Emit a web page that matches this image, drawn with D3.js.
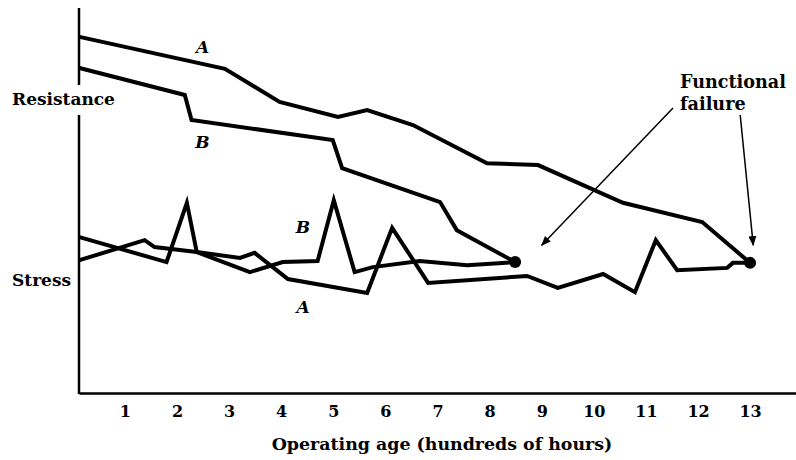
<!DOCTYPE html>
<html lang="en">
<head>
	<title>Resistance and stress vs operating age</title>
	<script src="https://d3js.org/d3.v7.min.js" charset="utf-8"></script>
	<style>
		body { margin: 0; background: #fff; }
		text {
			font-family: "DejaVu Serif", serif;
			font-weight: bold;
			fill: #000;
		}
	</style>
</head>

<body>
<script>
	// Data (x = hundreds of hours, y = arbitrary level)
	var resistA_x = [0.13, 2.92, 3.97, 5.09, 5.65, 6.53, 7.95, 8.93, 10.56, 12.08, 13.0];
	var resistA_y = [92.5, 84.2, 75.6, 71.7, 73.5, 69.6, 59.7, 59.2, 49.4, 44.4, 33.8];

	var resistB_x = [0.13, 2.15, 2.28, 4.99, 5.17, 7.05, 7.37, 8.49];
	var resistB_y = [84.4, 77.4, 70.9, 65.7, 58.4, 49.6, 42.3, 34.0];

	var stressA_x = [0.13, 1.38, 1.57, 2.38, 3.21, 3.49, 4.13, 5.65, 6.13, 6.82, 8.72, 9.31, 10.18, 10.79, 11.19, 11.60, 12.56, 12.67, 13.0];
	var stressA_y = [34.5, 39.7, 37.9, 36.6, 35.1, 36.4, 29.6, 26.0, 42.9, 28.6, 30.4, 27.3, 30.9, 26.2, 39.7, 31.9, 32.5, 33.8, 33.8];

	var stressB_x = [0.13, 1.80, 2.19, 2.38, 3.40, 4.03, 4.70, 5.01, 5.41, 5.76, 6.66, 7.57, 8.49];
	var stressB_y = [40.5, 34.0, 49.4, 36.6, 31.4, 34.0, 34.3, 50.1, 31.4, 32.7, 34.3, 33.2, 34.0];

	// failure points (end of each pair)
	var failX = [8.49, 13.0];
	var failY = [34.0, 33.8];

	var tickLabels = [1, 2, 3, 4, 5, 6, 7, 8, 9, 10, 11, 12, 13];

	var w = 796;
	var h = 460;

	var x = d3.scaleLinear().domain([0.12, 13.9]).range([79, 797]);
	var y = d3.scaleLinear().domain([0, 100]).range([393, 8]);

	var svg = d3.select("body")
		.append("svg")
		.attr("width", w)
		.attr("height", h);

	svg.append("rect")
		.attr("width", w)
		.attr("height", h)
		.attr("fill", "#fff");

	function zip(xs, ys) {
		return xs.map(function(v, i) { return [v, ys[i]]; });
	}

	var line = d3.line()
		.x(function(d) { return x(d[0]); })
		.y(function(d) { return y(d[1]); });

	var series = [
		zip(resistA_x, resistA_y),
		zip(resistB_x, resistB_y),
		zip(stressA_x, stressA_y),
		zip(stressB_x, stressB_y)
	];

	svg.selectAll("path.curve")
		.data(series)
		.enter()
		.append("path")
		.attr("class", "curve")
		.attr("d", line)
		.attr("fill", "none")
		.attr("stroke", "#000")
		.attr("stroke-width", 4);

	svg.selectAll("circle.fail")
		.data(zip(failX, failY))
		.enter()
		.append("circle")
		.attr("class", "fail")
		.attr("cx", function(d) { return x(d[0]); })
		.attr("cy", function(d) { return y(d[1]); })
		.attr("r", 6)
		.attr("fill", "#000");

	// x-axis
	var xAxis = d3.axisBottom(x)
		.tickValues(tickLabels)
		.tickFormat(d3.format("d"))
		.tickSize(0)
		.tickSizeOuter(0)
		.tickPadding(13);

	var gx = svg.append("g")
		.attr("transform", "translate(0," + y(0) + ")")
		.call(xAxis);
	gx.select(".domain").attr("stroke-width", 2.5);
	gx.selectAll("text")
		.attr("font-family", "'DejaVu Serif', serif")
		.attr("font-weight", "bold")
		.attr("font-size", 16);

	// y-axis, broken where the Resistance label sits
	svg.append("line")
		.attr("x1", x(0.12)).attr("x2", x(0.12))
		.attr("y1", y(100)).attr("y2", y(80))
		.attr("stroke", "#000").attr("stroke-width", 2.5);
	svg.append("line")
		.attr("x1", x(0.12)).attr("x2", x(0.12))
		.attr("y1", y(72.2)).attr("y2", y(0) + 1)
		.attr("stroke", "#000").attr("stroke-width", 2.5);

	svg.append("text")
		.attr("x", 12)
		.attr("y", y(76.3) + 6)
		.attr("font-size", 17)
		.text("Resistance");

	svg.append("text")
		.attr("x", 12)
		.attr("y", y(29.4) + 6)
		.attr("font-size", 17)
		.text("Stress");

	svg.append("text")
		.attr("x", 442)
		.attr("y", 450)
		.attr("text-anchor", "middle")
		.attr("font-size", 17.4)
		.text("Operating age (hundreds of hours)");

	// curve letters
	var curveLabels = [
		{ t: "A", x: 2.49, y: 89.9 },
		{ t: "B", x: 2.49, y: 65.2 },
		{ t: "B", x: 4.42, y: 43.2 },
		{ t: "A", x: 4.42, y: 22.3 }
	];
	svg.selectAll("text.curveLab")
		.data(curveLabels)
		.enter()
		.append("text")
		.attr("class", "curveLab")
		.attr("x", function(d) { return x(d.x); })
		.attr("y", function(d) { return y(d.y) + 6; })
		.attr("text-anchor", "middle")
		.attr("font-style", "italic")
		.attr("font-size", 17)
		.text(function(d) { return d.t; });

	// Functional failure annotation
	svg.append("text")
		.attr("x", 680)
		.attr("y", 88)
		.attr("font-size", 17.6)
		.text("Functional");
	svg.append("text")
		.attr("x", 680)
		.attr("y", 110)
		.attr("font-size", 17.6)
		.text("failure");

	svg.append("defs").append("marker")
		.attr("id", "arrow")
		.attr("viewBox", "0 0 10 10")
		.attr("refX", 9)
		.attr("refY", 5)
		.attr("markerWidth", 10)
		.attr("markerHeight", 10)
		.attr("markerUnits", "userSpaceOnUse")
		.attr("orient", "auto")
		.append("path")
		.attr("d", "M0,1 L10,5 L0,9 Z")
		.attr("fill", "#000");

	var arrows = [
		[[11.52, 74.0], [9.0, 38.4]],
		[[12.81, 72.2], [13.06, 38.4]]
	];
	svg.selectAll("line.arrow")
		.data(arrows)
		.enter()
		.append("line")
		.attr("class", "arrow")
		.attr("x1", function(d) { return x(d[0][0]); })
		.attr("y1", function(d) { return y(d[0][1]); })
		.attr("x2", function(d) { return x(d[1][0]); })
		.attr("y2", function(d) { return y(d[1][1]); })
		.attr("stroke", "#000")
		.attr("stroke-width", 1.5)
		.attr("marker-end", "url(#arrow)");
</script>
</body>
</html>
